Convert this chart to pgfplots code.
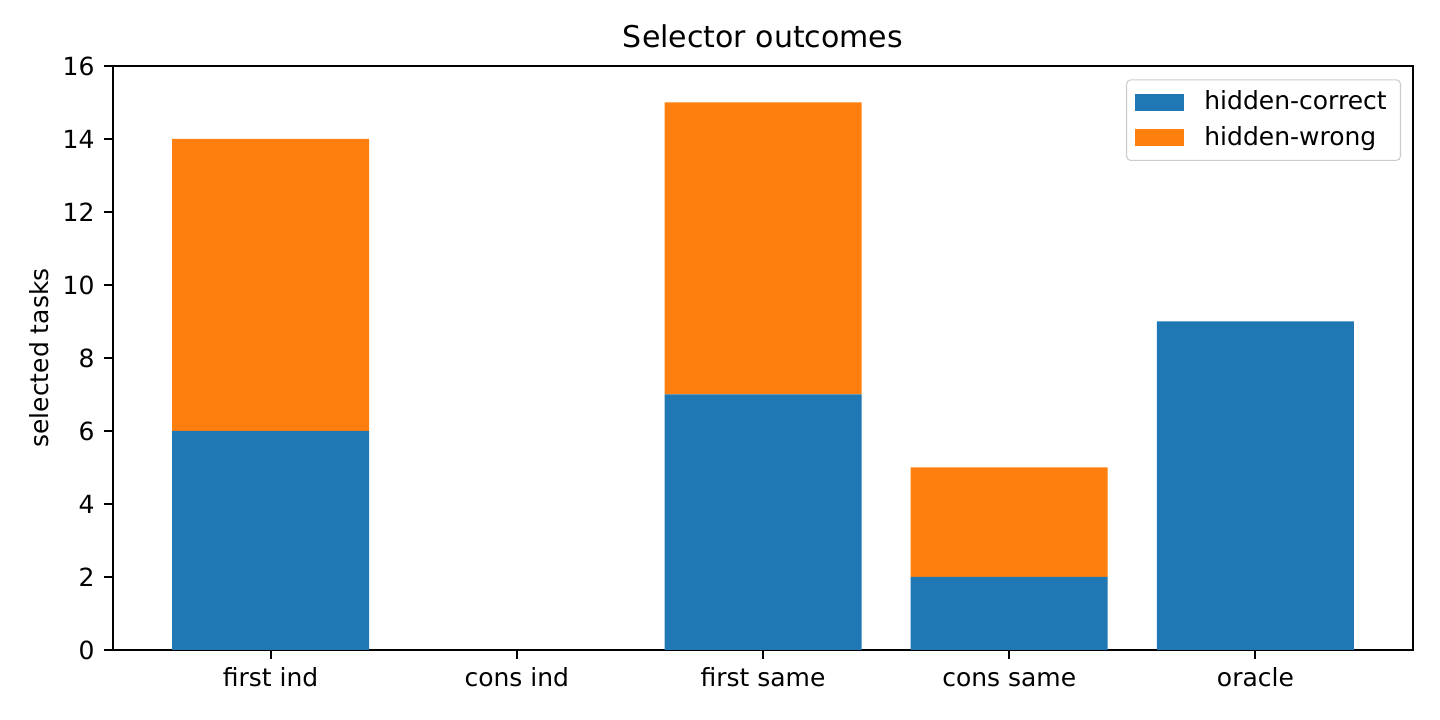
\documentclass[border=0pt]{standalone}
\usepackage{fontspec}
\setmainfont{DejaVu Sans}
\usepackage{pgfplots}
\usepackage{pgfplotstable}
\pgfplotsset{compat=1.18}

\definecolor{mplblue}{HTML}{1F77B4}
\definecolor{mplorange}{HTML}{FF7F0E}

% selector outcomes: hidden-correct / hidden-wrong per selector
\pgfplotstableread{
x correct wrong
0 6 8
1 0 0
2 7 8
3 2 3
4 9 0
}\outcomes

\begin{document}
\begin{tikzpicture}
\useasboundingbox (-40.68pt,-25.2pt) rectangle ++(518.4pt,259.2pt);
\begin{axis}[
    at={(0,0)}, anchor=south west,
    scale only axis, width=468pt, height=210.24pt,
    ybar stacked, bar width=0.8,
    xmin=-0.64, xmax=4.64, ymin=0, ymax=16,
    xtick={0,...,4},
    xticklabels={first ind, cons ind, first same, cons same, oracle},
    ytick={0,2,...,16},
    tick pos=left, tick align=outside,
    major tick length=3.15pt,
    every tick/.style={black, line width=0.72pt},
    axis line style={line width=0.72pt},
    tick label style={font=\fontsize{9}{11}\selectfont},
    xticklabel style={text height=6.8pt, text depth=1.8pt, inner sep=2pt, yshift=-1pt},
    /pgf/number format/assume math mode=true,
    title={Selector outcomes},
    title style={font=\fontsize{10.8}{13}\selectfont, yshift=-3pt},
    ylabel={selected tasks},
    ylabel style={font=\fontsize{9}{11}\selectfont, yshift=-2pt},
    legend style={at={(1,1)}, anchor=north east, xshift=-4.3pt, yshift=-4.8pt,
        draw=black!20, rounded corners=1.5pt, fill=white,
        font=\fontsize{9}{11}\selectfont,
        row sep=0.3pt, inner xsep=3pt, inner ysep=2pt},
    legend cell align=left,
    legend image code/.code={\fill[#1, sharp corners] (0pt,-3.1pt) rectangle (17.6pt,3.1pt); \path (23pt,0pt);},
]
\addplot[fill=mplblue, draw=none] table[x=x, y=correct] {\outcomes};
\addplot[fill=mplorange, draw=none] table[x=x, y=wrong] {\outcomes};
\legend{hidden-correct, hidden-wrong}
\end{axis}
\end{tikzpicture}
\end{document}
